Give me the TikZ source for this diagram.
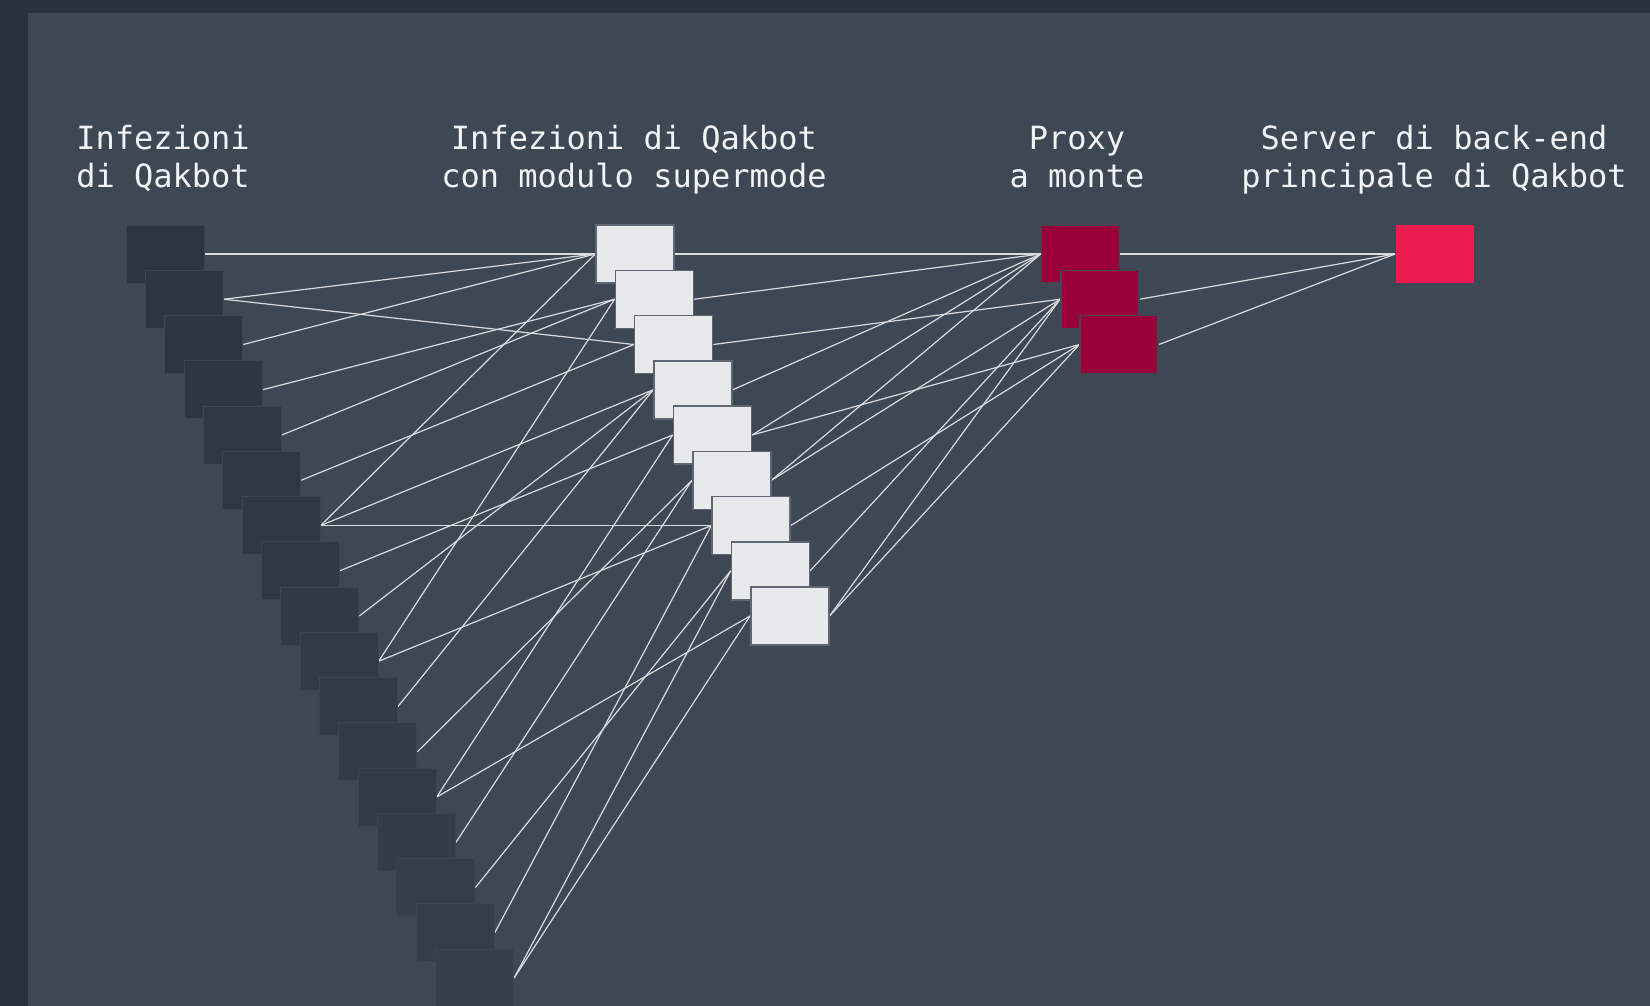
\documentclass[tikz,border=0pt]{standalone}
\usepackage{fontspec}
\newfontfamily\monofont{DejaVu Sans Mono}
\definecolor{framecol}{HTML}{29323F}
\definecolor{panelcol}{HTML}{3E4754}
\definecolor{darkboxA}{HTML}{2B3441}
\definecolor{darkboxB}{HTML}{353E4B}
\definecolor{darkedge}{HTML}{3B4451}
\definecolor{whitefill}{HTML}{E8E9EB}
\definecolor{whiteedge}{HTML}{5F6773}
\definecolor{proxyred}{HTML}{99003A}
\definecolor{proxyedge}{HTML}{474552}
\definecolor{serverred}{HTML}{EC1A4F}
\definecolor{linkcol}{HTML}{D9DBDE}
\definecolor{titlecol}{HTML}{F2F3F4}
\pgfdeclarelayer{bg}
\pgfdeclarelayer{links}
\pgfsetlayers{bg,links,main}
\begin{document}
\begin{tikzpicture}[x=0.5pt,y=-0.5pt,
  boxbase/.style={rectangle, inner sep=0pt, minimum width=39pt, minimum height=29pt},
  infbox/.style={boxbase, draw=darkedge, line width=0.5pt},
  supbox/.style={boxbase, fill=whitefill, draw=whiteedge, line width=0.75pt},
  proxybox/.style={boxbase, fill=proxyred, draw=proxyedge, line width=0.75pt},
  serverbox/.style={boxbase, fill=serverred},
  link/.style={draw=linkcol, line width=0.6pt},
  title/.style={text=titlecol, font={\monofont\fontsize{16}{19}\selectfont}, align=center, anchor=base, inner sep=0pt}
]
\clip (0,0) rectangle (1650,1006);
\begin{pgfonlayer}{bg}
  \fill[framecol] (0,0) rectangle (1650,1006);
  \fill[panelcol] (28,13) rectangle (1650,1006);
\end{pgfonlayer}

% titles (anchor = baseline of the last line)
\node[title] (t1) at (163,187) {Infezioni\\di Qakbot};
\node[title] (t2) at (634,187) {Infezioni di Qakbot\\con modulo supermode};
\node[title] (t3) at (1077,187) {Proxy\\a monte};
\node[title] (t4) at (1434,187) {Server di back-end\\principale di Qakbot};

% infections
\foreach \i in {0,...,16}{
  \pgfmathsetmacro{\pc}{\i*100/16}
  \node[infbox, fill=darkboxB!\pc!darkboxA] (L\i) at ({165+19.35*\i},{254+45.25*\i}) {};
}
% supermode infections
\foreach \j in {0,...,8}{
  \node[supbox] (W\j) at ({635+19.35*\j},{254+45.25*\j}) {};
}
% proxies
\foreach \k in {0,1,2}{
  \node[proxybox] (P\k) at ({1080.5+19.35*\k},{254+45.25*\k}) {};
}
% server
\node[serverbox] (S) at (1434.5,254) {};

\begin{pgfonlayer}{links}
  \foreach \a/\b in {0/0,1/0,1/2,2/0,3/1,4/1,5/2,6/0,6/3,6/6,7/4,8/3,9/1,9/6,10/3,11/5,12/4,12/8,13/5,14/7,15/6,16/7,16/8}{
    \draw[link] (L\a.east) -- (W\b.west);
  }
  \foreach \a/\b in {0/0,1/0,2/1,3/0,4/0,4/2,5/0,5/1,6/2,7/1,8/1,8/2}{
    \draw[link] (W\a.east) -- (P\b.west);
  }
  \foreach \a in {0,1,2}{
    \draw[link] (P\a.east) -- (S.west);
  }
\end{pgfonlayer}
\end{tikzpicture}
\end{document}
